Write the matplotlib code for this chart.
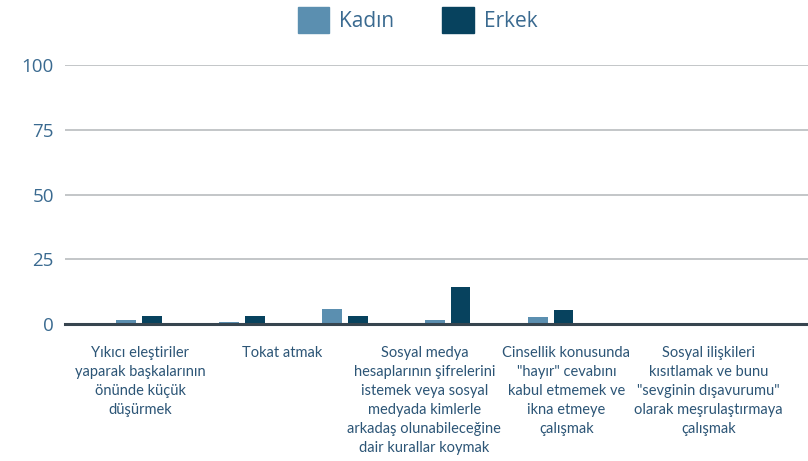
import matplotlib

matplotlib.use("Agg")
import matplotlib.pyplot as plt
from matplotlib.patches import Patch

categories = [
    "Yıkıcı eleştiriler\nyaparak başkalarının\nönünde küçük\ndüşürmek",
    "Tokat atmak",
    "Sosyal medya\nhesaplarının şifrelerini\nistemek veya sosyal\nmedyada kimlerle\narkadaş olunabileceğine\ndair kurallar koymak",
    "Cinsellik konusunda\n\"hayır\" cevabını\nkabul etmemek ve\nikna etmeye\nçalışmak",
    "Sosyal ilişkileri\nkısıtlamak ve bunu\n\"sevginin dışavurumu\"\nolarak meşrulaştırmaya\nçalışmak",
]
kadin = [1.4, 0.8, 5.7, 1.4, 2.6]
erkek = [3.0, 3.0, 3.0, 14.3, 5.5]
yticks = [0, 25, 50, 75, 100]

KADIN = "#5b8fb0"
ERKEK = "#07425e"
TICK = "#3a6a90"
LABEL = "#2c5576"
GRID = "#b9bcbf"
BASE = "#37454f"

plt.rcParams["font.family"] = ["Lato", "DejaVu Sans"]

fig = plt.figure(figsize=(8.08, 4.61), dpi=100)
ax = fig.add_axes([65 / 808, 1 - 324 / 461, 1 - 65 / 808, (324 - 65) / 461])

# bars sit on their own (tighter) scale, labels on a wider one, as in the source
n = len(categories)
xs = list(range(n))
w = 0.19
ax.bar([x - 0.125 for x in xs], kadin, width=w, color=KADIN, zorder=3, label="Kadın")
ax.bar([x + 0.125 for x in xs], erkek, width=w, color=ERKEK, zorder=3, label="Erkek")
ax.set_xlim(-0.72, 6.5)
ax.set_ylim(0, 100)

ax.set_yticks(yticks)
ax.set_yticklabels([str(t) for t in yticks], family=["Open Sans", "DejaVu Sans"])
ax.tick_params(axis="y", length=0, pad=8, labelsize=13.5, labelcolor=TICK)
ax.tick_params(axis="x", length=0, labelbottom=False)
ax.grid(axis="y", color=GRID, linewidth=1.2, zorder=0)
for side in ("top", "right", "left"):
    ax.spines[side].set_visible(False)
ax.spines["bottom"].set_color(BASE)
ax.spines["bottom"].set_linewidth(2.2)
ax.spines["bottom"].set_zorder(4)

lab = ax.twiny()
lab.set_xlim(-0.53, 4.70)
lab.xaxis.set_ticks_position("bottom")
lab.set_xticks(xs)
lab.set_xticklabels(categories, fontsize=10.5, color=LABEL, linespacing=1.45, va="top")
lab.tick_params(axis="x", length=0, pad=16)
for side in ("top", "right", "left", "bottom"):
    lab.spines[side].set_visible(False)

handles = [Patch(color=KADIN), Patch(color=ERKEK)]
fig.legend(
    handles, ["Kadın", "Erkek"], loc="upper center", bbox_to_anchor=(0.517, 1.025),
    ncol=2, frameon=False, fontsize=15,
    prop={"family": ["Open Sans", "DejaVu Sans"], "size": 15},
    labelcolor=TICK, handlelength=1.5, handleheight=1.5,
    columnspacing=2.3, handletextpad=0.5,
)

fig.savefig("out.png", dpi=100)
